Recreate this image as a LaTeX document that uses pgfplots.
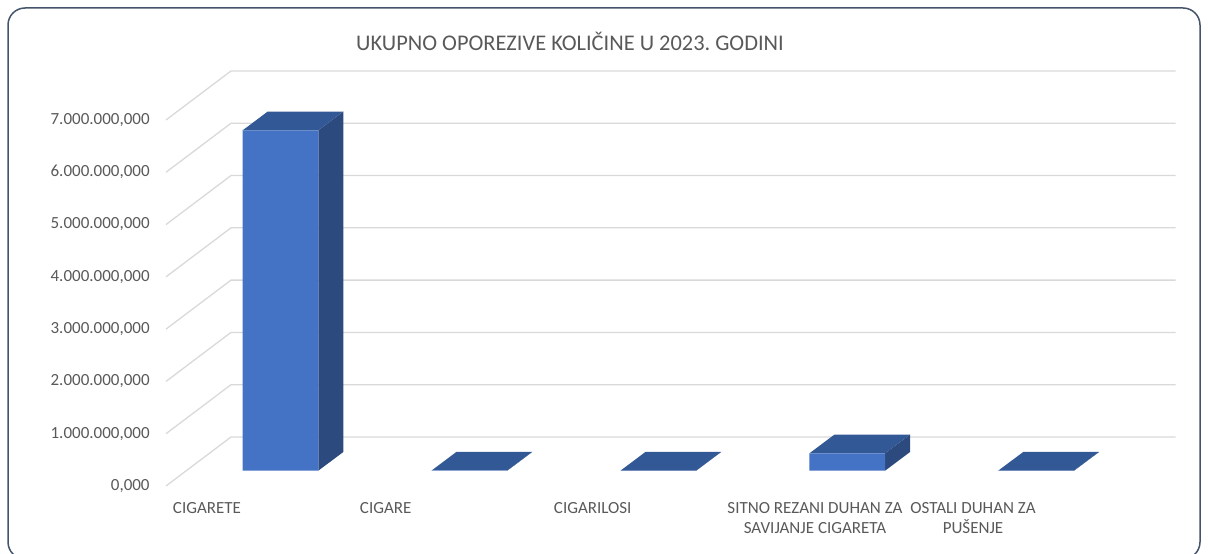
\documentclass[border=0pt]{standalone}
\usepackage{fontspec}
\setmainfont{Carlito}
\usepackage{pgfplots}
\usepackage{pgfplotstable}
\pgfplotsset{compat=1.18}
\definecolor{frontc}{HTML}{4472C4}
\definecolor{sidec}{HTML}{2C4A7E}
\definecolor{topc}{HTML}{335896}
\definecolor{gridc}{HTML}{D9D9D9}
\definecolor{txt}{HTML}{595959}
\definecolor{framec}{HTML}{44546A}
\frenchspacing

% values in millions
\pgfplotstableread{
idx mil
0 6.510
1 0.004
2 0.002
3 0.333
4 0.003
}\bars
\pgfplotstableread{
b h
0 0
1 0
1 1
0 1
}\sidecorners
\pgfplotstableread{
a b
0 0
1 0
1 1
0 1
}\topcorners
\def\bw{0.2001}
\def\dx{0.1323}
\def\dy{0.3576}

\begin{document}
\begin{tikzpicture}
\begin{axis}[
  scale only axis, width=604pt, height=277pt,
  xmin=-1.48468, xmax=4.90923, ymin=-1.59304, ymax=9.00172,
  clip=false,
  axis line style={draw=none},
  major tick style={draw=none},
  xtick={-0.3890,0.5568,1.6525,2.8291,3.6654},
  xticklabels={CIGARETE,CIGARE,CIGARILOSI,{\begin{tabular}[t]{@{}c@{}}SITNO REZANI DUHAN ZA\\SAVIJANJE CIGARETA\end{tabular}},{\begin{tabular}[t]{@{}c@{}}OSTALI DUHAN ZA\\PUŠENJE\end{tabular}}},
  ytick={0,1,2,3,4,5,6,7},
  yticklabels={{0,000},{1.000.000,000},{2.000.000,000},{3.000.000,000},{4.000.000,000},{5.000.000,000},{6.000.000,000},{7.000.000,000}},
  tick label style={font=\fontsize{8.5}{10}\selectfont, text=txt},
  xticklabel style={anchor=base, inner sep=0pt, yshift=20pt},
  yticklabel style={anchor=east, inner sep=0pt, xshift=75pt, yshift=-7.65pt},
]
% frame
\draw[framec, line width=0.75pt, rounded corners=8.5pt] (axis cs:-1.4423,-1.6887) rectangle (axis cs:4.8669,8.8487);
% walls
\pgfplotsinvokeforeach{0,1,2,3,4,5,6,7}{
  \draw[gridc, line width=0.65pt] (axis cs:-0.6060,{#1-0.2926}) -- (axis cs:-0.2620,{#1+0.6445}) -- (axis cs:4.7383,{#1+0.6445});
}
% side and top faces
\pgfplotsinvokeforeach{0,1,2,3,4}{
  \pgfplotstablegetelem{#1}{mil}\of\bars
  \let\barval\pgfplotsretval
  \addplot[fill=sidec, draw=none, forget plot] table[x expr={#1+\bw+\dx*\thisrow{b}}, y expr={\dy*\thisrow{b}+\barval*\thisrow{h}}] {\sidecorners};
  \addplot[fill=topc, draw=none, forget plot] table[x expr={#1-\bw+2*\bw*\thisrow{a}+\dx*\thisrow{b}}, y expr={\barval+\dy*\thisrow{b}}] {\topcorners};
}
% front faces
\addplot[ybar, bar width=0.4002, fill=frontc, draw=none, forget plot] table[x=idx, y=mil] {\bars};
% title
\node[font=\fontsize{11.2}{13}\selectfont, text=txt, anchor=base] at (axis cs:1.5323,8.034) {UKUPNO OPOREZIVE KOLIČINE U 2023. GODINI};
\end{axis}
\pgfresetboundingbox
\path (current axis.south west) rectangle (current axis.north east);
\end{tikzpicture}
\end{document}
